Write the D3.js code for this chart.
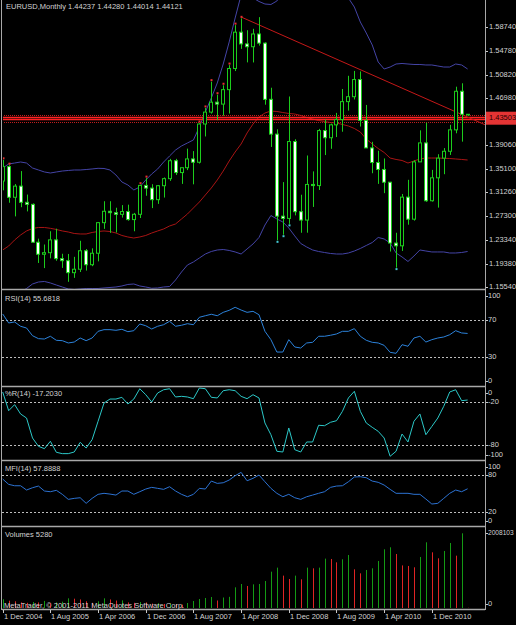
<!DOCTYPE html>
<html>
<head>
<meta charset="utf-8">
<script src="https://cdn.jsdelivr.net/npm/d3@7"></script>
<style>
body { margin: 0; background: #000; }
svg { display: block; }
text { font-family: "Liberation Sans", Arial, sans-serif; font-size: 7.5px; fill: #d2d2d2; }
</style>
</head>
<body>
<div id="chart"></div>
<script>
// monthly EURUSD bars, Dec 2004 .. Jun 2011
var open  = [1.3315,1.3554,1.3045,1.3230,1.2961,1.2927,1.2298,1.2098,1.2124,1.2337,
             1.2025,1.1991,1.1792,1.1849,1.2156,1.1924,1.2115,1.2623,1.2812,1.2789,
             1.2761,1.2808,1.2674,1.2762,1.3242,1.3197,1.3005,1.3237,1.3354,1.3652,
             1.3455,1.3536,1.3682,1.3627,1.4262,1.4460,1.4625,1.4593,1.4833,1.5184,
             1.5788,1.5593,1.5546,1.5758,1.5606,1.4672,1.4094,1.2731,1.2693,1.3971,
             1.2805,1.2666,1.3258,1.3239,1.4153,1.4034,1.4248,1.4336,1.4634,1.4716,
             1.5001,1.4322,1.3865,1.3622,1.3507,1.3295,1.2284,1.2238,1.3047,1.2681,
             1.3633,1.3948,1.2987,1.3368,1.3695,1.3809,1.4165,1.4806,1.44237];
var high  = [1.3667,1.3578,1.3265,1.3480,1.3090,1.2943,1.2357,1.2260,1.2480,1.2523,
             1.2106,1.2103,1.2055,1.2322,1.2185,1.2196,1.2632,1.2979,1.2979,1.2871,
             1.2915,1.2922,1.2785,1.3254,1.3363,1.3262,1.3248,1.3374,1.3683,1.3683,
             1.3531,1.3853,1.3812,1.4278,1.4529,1.4966,1.4749,1.4906,1.5241,1.5905,
             1.6018,1.5820,1.5844,1.6038,1.5620,1.4865,1.4174,1.3297,1.4719,1.4009,
             1.3087,1.3739,1.3475,1.4181,1.4340,1.4269,1.4447,1.4844,1.5063,1.5144,
             1.5136,1.4579,1.3966,1.3818,1.3690,1.3300,1.2455,1.3099,1.3335,1.3659,
             1.4157,1.4283,1.3500,1.3760,1.3862,1.4248,1.4882,1.4939,1.44280];
var low   = [1.3160,1.2954,1.2727,1.2880,1.2810,1.2290,1.1953,1.1868,1.2030,1.1990,
             1.1871,1.1640,1.1706,1.1803,1.1827,1.1900,1.1980,1.2520,1.2453,1.2459,
             1.2707,1.2656,1.2480,1.2700,1.3070,1.2865,1.2935,1.3040,1.3317,1.3415,
             1.3267,1.3496,1.3260,1.3605,1.4055,1.4435,1.4326,1.4400,1.4436,1.5142,
             1.5511,1.5286,1.5285,1.5565,1.4583,1.3881,1.2329,1.2423,1.2603,1.2744,
             1.2455,1.2456,1.2884,1.3166,1.3746,1.3850,1.4045,1.4134,1.4485,1.4670,
             1.4220,1.3862,1.3444,1.3267,1.3113,1.2143,1.1876,1.2153,1.2589,1.2657,
             1.3633,1.2969,1.2973,1.2873,1.3428,1.3748,1.4108,1.3969,1.44014];
var close = [1.3554,1.3045,1.3230,1.2961,1.2927,1.2298,1.2098,1.2124,1.2337,1.2025,
             1.1991,1.1792,1.1849,1.2156,1.1924,1.2115,1.2623,1.2812,1.2789,1.2761,
             1.2808,1.2674,1.2762,1.3242,1.3197,1.3005,1.3237,1.3354,1.3652,1.3455,
             1.3536,1.3682,1.3627,1.4262,1.4460,1.4625,1.4593,1.4833,1.5184,1.5788,
             1.5593,1.5546,1.5758,1.5606,1.4672,1.4094,1.2731,1.2693,1.3971,1.2805,
             1.2666,1.3258,1.3239,1.4153,1.4034,1.4248,1.4336,1.4634,1.4716,1.5001,
             1.4322,1.3865,1.3622,1.3507,1.3295,1.2284,1.2238,1.3047,1.2681,1.3633,
             1.3948,1.2987,1.3368,1.3695,1.3809,1.4165,1.4806,1.4424,1.44121];

var bbUpper = [1.3531,1.3598,1.3614,1.3631,1.3614,1.3531,1.3498,1.3465,1.3448,1.3465,
               1.3481,1.3490,1.3498,1.3498,1.3506,1.3515,1.3526,1.3523,1.3498,1.3415,
               1.3299,1.3249,1.3166,1.3216,1.3332,1.3432,1.3515,1.3631,1.3731,1.3830,
               1.3897,1.3947,1.3997,1.4213,1.4462,1.4694,1.4944,1.5259,1.5625,1.6024,
               1.6406,1.6422,1.6356,1.6298,1.6256,1.6248,1.6306,1.6456,1.6572,1.6738,
               1.6904,1.6987,1.7070,1.7070,1.6987,1.6904,1.6738,1.6522,1.6356,1.6206,
               1.5957,1.5774,1.5575,1.5292,1.5176,1.5209,1.5259,1.5268,1.5259,1.5251,
               1.5251,1.5243,1.5243,1.5226,1.5209,1.5209,1.5259,1.5243,1.5176];
var bbMiddle = [1.2169,1.2235,1.2335,1.2418,1.2485,1.2526,1.2543,1.2543,1.2529,1.2510,
                1.2485,1.2468,1.2443,1.2435,1.2435,1.2460,1.2476,1.2485,1.2476,1.2451,
                1.2410,1.2385,1.2368,1.2385,1.2410,1.2451,1.2485,1.2518,1.2568,1.2601,
                1.2684,1.2767,1.2867,1.2966,1.3083,1.3199,1.3332,1.3481,1.3648,1.3797,
                1.3930,1.4113,1.4262,1.4379,1.4445,1.4478,1.4470,1.4453,1.4437,1.4428,
                1.4404,1.4370,1.4345,1.4320,1.4304,1.4287,1.4279,1.4254,1.4229,1.4188,
                1.4129,1.4013,1.3930,1.3855,1.3789,1.3697,1.3673,1.3656,1.3614,1.3648,
                1.3681,1.3697,1.3697,1.3697,1.3692,1.3689,1.3681,1.3673,1.3664];
var bbLower = [1.1255,1.1338,1.1405,1.1471,1.1529,1.1604,1.1637,1.1646,1.1621,1.1587,
               1.1554,1.1521,1.1513,1.1521,1.1529,1.1529,1.1529,1.1538,1.1546,1.1554,
               1.1571,1.1596,1.1604,1.1571,1.1554,1.1533,1.1538,1.1554,1.1562,1.1670,
               1.1803,1.1920,1.1970,1.2036,1.2102,1.2144,1.2169,1.2177,1.2161,1.2136,
               1.2102,1.2186,1.2269,1.2377,1.2584,1.2742,1.2684,1.2634,1.2534,1.2402,
               1.2277,1.2219,1.2169,1.2144,1.2127,1.2111,1.2102,1.2102,1.2119,1.2152,
               1.2194,1.2244,1.2293,1.2377,1.2352,1.2285,1.2119,1.2053,1.1978,1.2069,
               1.2169,1.2152,1.2136,1.2136,1.2136,1.2119,1.2119,1.2127,1.2144];

var rsi = [76.9,67.1,68.2,63.5,61.6,53.2,50.0,49.6,52.6,48.2,
           47.8,45.3,46.3,50.7,47.8,50.7,58.0,59.8,59.8,59.1,
           60.2,57.6,58.7,66.0,64.1,60.5,63.5,65.2,68.9,63.5,
           64.6,66.3,65.2,73.3,75.0,76.6,75.0,78.7,80.9,84.2,
           81.2,78.7,79.8,76.1,58.0,48.9,35.4,35.4,48.9,40.9,
           39.8,45.3,46.0,52.6,52.6,53.7,55.1,58.0,58.0,60.9,
           52.6,48.2,46.0,45.3,42.7,35.1,34.0,43.4,41.7,50.7,
           52.6,46.3,48.9,50.7,51.8,54.3,58.7,56.2,55.6818];
var wpr = [-5.9,-32.2,-23.7,-36.8,-42.5,-70.6,-82.3,-85.6,-75.2,-90.7,
           -92.6,-92.6,-90.3,-76.7,-84.7,-73.0,-47.1,-21.4,-15.8,-15.8,
           -13.4,-22.8,-15.8,-1.3,-9.7,-20.0,-7.3,-2.7,-1.3,-12.9,
           -12.0,-12.9,-15.3,-0.3,-1.3,-13.4,-14.3,-4.1,-2.7,-4.1,
           -12.0,-15.3,-9.7,-14.3,-49.5,-66.0,-89.3,-90.3,-56.5,-87.0,
           -90.3,-76.2,-76.2,-52.7,-53.3,-48.5,-46.3,-33.1,-14.3,-4.9,
           -33.1,-49.5,-55.6,-61.2,-70.6,-96.3,-89.3,-65.0,-76.2,-47.1,
           -36.8,-66.0,-54.3,-42.5,-26.0,-5.9,-2.7,-18.1,-17.2030];
var mfi = [73.6,65.0,62.8,62.8,55.9,59.6,62.3,54.3,53.2,55.4,
           49.0,40.9,42.5,43.5,34.5,42.5,49.0,50.6,49.4,47.8,
           54.3,54.3,49.0,53.2,57.5,60.2,58.6,57.0,61.2,54.3,
           49.0,45.1,49.0,58.6,57.5,70.3,66.6,67.6,72.0,78.9,
           84.3,70.8,74.7,80.0,69.2,58.6,50.6,45.1,49.0,43.5,
           40.9,45.1,47.8,50.6,53.2,60.2,62.3,62.8,69.2,76.8,
           77.3,75.7,70.3,68.3,63.9,57.0,50.6,50.6,50.6,49.0,
           49.0,41.4,33.4,34.5,42.5,50.6,55.9,53.2,57.8888];
var volume = [234000,196000,180000,150000,140000,160000,150000,190000,130000,150000,
              170000,260000,250000,230000,180000,140000,180000,260000,230000,200000,
              205000,150000,140000,160000,150000,120000,130000,110000,120000,100000,
              90000,134000,188000,242000,269000,296000,202000,282000,300000,556000,
              645000,592000,636000,645500,726000,977000,1085000,870000,780000,870000,
              771000,1085000,1067000,1085000,1327000,1318000,1228000,1309000,1425000,1040000,
              932000,1022000,1067000,1264000,1578000,1632000,1452000,1145000,1130000,1094000,
              1372000,1766000,1497000,1336000,1533000,1748000,1407000,2008103,5280];

var highMarks = [0,1,23,24,33,34,35,36,37,38,39,40];
var lowMarks = [46,47,48,66];

var priceTicks = [1.58740,1.54780,1.50820,1.46980,1.39060,1.35100,1.31260,1.27300,1.23340,1.19380,1.15540];
var dateTickIdx = [0,8,16,24,32,40,48,56,64,72];
var dateTicks = ["1 Dec 2004","1 Aug 2005","1 Apr 2006","1 Dec 2006","1 Aug 2007",
                 "1 Apr 2008","1 Dec 2008","1 Aug 2009","1 Apr 2010","1 Dec 2010"];

var trendIdx = [40, 81];
var trendPrice = [1.6040, 1.4246];
var solidLevels = [1.4375, 1.4342];
var dottedLevels = [1.4412, 1.4299];
var priceTag = 1.43503;

var width = 516, height = 625;
var left = 2, right = 485;

var svg = d3.select("#chart").append("svg")
    .attr("width", width).attr("height", height)
    .style("background", "#000");

var x = d3.scaleLinear().domain([0, 78]).range([2.7, 467.6]);
var cx = function(i) { return Math.round(x(i)); };

var yP = d3.scaleLinear().domain([1.15207, 1.63226]).range([289, 0]);
var yRsi = d3.scaleLinear().domain([0, 100]).range([384.5, 292.8]);
var yWpr = d3.scaleLinear().domain([-100, 0]).range([458.9, 387.8]);
var yMfi = d3.scaleLinear().domain([0, 100]).range([524.8, 462.6]);
var yVol = d3.scaleLinear().domain([0, 2008103]).range([608, 533.3]);

var panels = [
    {top: 0, bottom: 289},
    {top: 291, bottom: 386, scale: yRsi, ticks: [100,70,30,0], levels: [70,30]},
    {top: 388, bottom: 460, scale: yWpr, ticks: [0,-20,-80,-100], levels: [-20,-80]},
    {top: 462, bottom: 526, scale: yMfi, ticks: [100,80,20,0], levels: [80,20]},
    {top: 528, bottom: 609, scale: yVol, ticks: [2008103,0], levels: []}
];

var defs = svg.append("defs");
defs.append("clipPath").attr("id", "clipMain")
    .append("rect").attr("x", left + 1).attr("y", 0).attr("width", right - left - 1).attr("height", 289);

// main chart
var main = svg.append("g").attr("clip-path", "url(#clipMain)");

var band = d3.line().x(function(d, i) { return x(i); }).y(function(d) { return yP(d); });
main.append("path").attr("d", band(bbUpper)).attr("fill", "none").attr("stroke", "#4444a6");
main.append("path").attr("d", band(bbLower)).attr("fill", "none").attr("stroke", "#4444a6");
main.append("path").attr("d", band(bbMiddle)).attr("fill", "none").attr("stroke", "#a81414");

dottedLevels.forEach(function(p) {
    main.append("line").attr("x1", left).attr("x2", right)
        .attr("y1", Math.round(yP(p)) + 0.5).attr("y2", Math.round(yP(p)) + 0.5)
        .attr("stroke", "#c01c1c").attr("stroke-dasharray", "1,1");
});
solidLevels.forEach(function(p) {
    main.append("line").attr("x1", left).attr("x2", right)
        .attr("y1", Math.round(yP(p)) + 0.5).attr("y2", Math.round(yP(p)) + 0.5)
        .attr("stroke", "#ff2222").attr("stroke-width", 1.4);
});

main.append("line")
    .attr("x1", x(trendIdx[0])).attr("y1", yP(trendPrice[0]))
    .attr("x2", x(trendIdx[1])).attr("y2", yP(trendPrice[1]))
    .attr("stroke", "#c41818");

var bars = open.map(function(o, i) {
    return {i: i, o: o, h: high[i], l: low[i], c: close[i]};
});

main.selectAll(".wick").data(bars).enter().append("line")
    .attr("class", "wick")
    .attr("x1", function(d) { return cx(d.i) + 0.5; })
    .attr("x2", function(d) { return cx(d.i) + 0.5; })
    .attr("y1", function(d) { return yP(d.h); })
    .attr("y2", function(d) { return yP(d.l); })
    .attr("stroke", "#1ccc1c");

main.selectAll(".body").data(bars).enter().append("rect")
    .attr("class", "body")
    .attr("x", function(d) { return cx(d.i) - 1.5; })
    .attr("width", 3)
    .attr("y", function(d) { return yP(Math.max(d.o, d.c)); })
    .attr("height", function(d) { return Math.max(0.5, Math.abs(yP(d.o) - yP(d.c))); })
    .attr("fill", function(d) { return d.c < d.o ? "#ffffff" : "#000000"; })
    .attr("stroke", "#1ccc1c");

main.selectAll(".hmark").data(highMarks).enter().append("rect")
    .attr("x", function(i) { return cx(i) - 0.5; })
    .attr("y", function(i) { return yP(high[i]) - 2.5; })
    .attr("width", 2).attr("height", 2)
    .attr("fill", "#e83030");
main.selectAll(".lmark").data(lowMarks).enter().append("rect")
    .attr("x", function(i) { return cx(i) - 0.5; })
    .attr("y", function(i) { return yP(low[i]) + 0.5; })
    .attr("width", 2).attr("height", 2)
    .attr("fill", "#44c8d8");

// price axis
svg.selectAll(".ptick").data(priceTicks).enter().append("line")
    .attr("x1", right).attr("x2", right + 3)
    .attr("y1", function(d) { return Math.round(yP(d)) + 0.5; })
    .attr("y2", function(d) { return Math.round(yP(d)) + 0.5; })
    .attr("stroke", "#c8c8c8");
svg.selectAll(".plabel").data(priceTicks).enter().append("text")
    .attr("x", right + 4).attr("y", function(d) { return yP(d); })
    .attr("dominant-baseline", "middle")
    .text(function(d) { return d.toFixed(5); });

svg.append("rect")
    .attr("x", right + 1).attr("y", yP(priceTag) - 7).attr("width", 31).attr("height", 13)
    .attr("fill", "#e43434");
svg.append("text")
    .attr("x", right + 4).attr("y", yP(priceTag) - 0.5)
    .attr("dominant-baseline", "middle")
    .style("fill", "#2a0000")
    .text(priceTag.toFixed(5));

// indicator lines
function drawLine(values, scale, color) {
    var ln = d3.line().x(function(d, i) { return x(i); }).y(function(d) { return scale(d); });
    svg.append("path").attr("d", ln(values)).attr("fill", "none").attr("stroke", color);
}

panels.slice(1).forEach(function(p) {
    p.levels.forEach(function(v) {
        var yy = Math.round(p.scale(v)) + 0.5;
        svg.append("line").attr("x1", left).attr("x2", right).attr("y1", yy).attr("y2", yy)
            .attr("stroke", "#bdbdbd").attr("stroke-dasharray", "2,2");
    });
    p.ticks.forEach(function(v) {
        var yy = Math.max(p.top + 5, Math.min(p.bottom - 5, p.scale(v)));
        var t = svg.append("text").attr("x", right + 3).attr("y", yy)
            .attr("dominant-baseline", "middle").text(v);
        if (String(v).length > 5) t.style("font-size", "6.6px");
        svg.append("line").attr("x1", right).attr("x2", right + 3)
            .attr("y1", Math.round(yy) + 0.5).attr("y2", Math.round(yy) + 0.5)
            .attr("stroke", "#c8c8c8");
    });
});

drawLine(rsi, yRsi, "#2c82da");
drawLine(wpr, yWpr, "#2cc8c8");
drawLine(mfi, yMfi, "#2c72d2");

svg.selectAll(".vol").data(volume).enter().append("line")
    .attr("x1", function(d, i) { return cx(i) + 0.5; })
    .attr("x2", function(d, i) { return cx(i) + 0.5; })
    .attr("y1", yVol(0))
    .attr("y2", function(d) { return yVol(d); })
    .attr("stroke", function(d, i) { return i === 0 || d > volume[i - 1] ? "#149a14" : "#e02424"; });

// frames
panels.forEach(function(p) {
    svg.append("line").attr("x1", left).attr("x2", right)
        .attr("y1", p.bottom + 0.5).attr("y2", p.bottom + 0.5)
        .attr("stroke", "#a8a8a8").attr("stroke-width", 1.5);
});
svg.append("line").attr("x1", left - 0.5).attr("x2", left - 0.5).attr("y1", 0).attr("y2", 610)
    .attr("stroke", "#a8a8a8");
svg.append("line").attr("x1", right + 0.5).attr("x2", right + 0.5).attr("y1", 0).attr("y2", 610)
    .attr("stroke", "#a8a8a8");

// date axis
dateTickIdx.forEach(function(idx, k) {
    svg.append("line").attr("x1", cx(idx) + 0.5).attr("x2", cx(idx) + 0.5)
        .attr("y1", 610).attr("y2", 613).attr("stroke", "#c8c8c8");
    svg.append("text").attr("x", cx(idx) + 1).attr("y", 617.5)
        .attr("dominant-baseline", "middle").text(dateTicks[k]);
});

// captions
svg.append("text").attr("x", 6).attr("y", 7.5).attr("dominant-baseline", "middle")
    .text("EURUSD,Monthly  " + [open[78], high[78], low[78], close[78]].map(function(v) { return v.toFixed(5); }).join(" "));
svg.append("text").attr("x", 5).attr("y", 299).attr("dominant-baseline", "middle")
    .text("RSI(14) " + rsi[78].toFixed(4));
svg.append("text").attr("x", 5).attr("y", 394.5).attr("dominant-baseline", "middle")
    .text("%R(14) " + wpr[78].toFixed(4));
svg.append("text").attr("x", 5).attr("y", 469).attr("dominant-baseline", "middle")
    .text("MFI(14) " + mfi[78].toFixed(4));
svg.append("text").attr("x", 5).attr("y", 535).attr("dominant-baseline", "middle")
    .text("Volumes " + volume[78]);
svg.append("text").attr("x", 4).attr("y", 606).attr("dominant-baseline", "middle")
    .text("MetaTrader, \u00a9 2001-2011 MetaQuotes Software Corp.");
</script>
</body>
</html>
